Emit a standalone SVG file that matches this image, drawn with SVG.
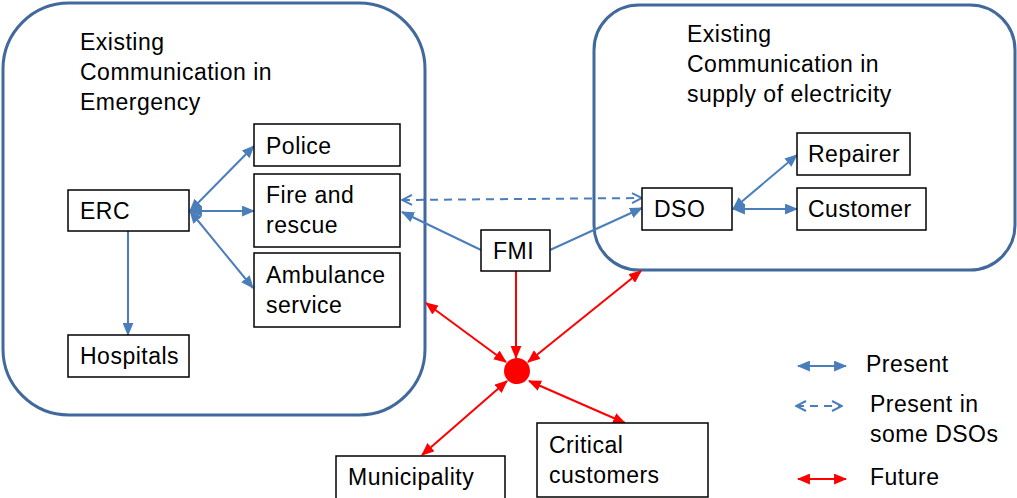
<svg xmlns="http://www.w3.org/2000/svg" width="1017" height="498" viewBox="0 0 1017 498">
<defs>
<style>
text{font-family:"Liberation Sans",Arial,sans-serif;font-size:23px;letter-spacing:0.5px;fill:#000}
.box{fill:#fff;stroke:#000;stroke-width:1.5}
.grp{fill:none;stroke:#41699c;stroke-width:3}
.b{stroke:#4a7ebb;stroke-width:2;fill:none}
.bd{stroke:#4a7ebb;stroke-width:2;fill:none;stroke-dasharray:8,6}
.r{stroke:#ff0000;stroke-width:2;fill:none}
</style>
<marker id="ab" viewBox="0 0 12 10" refX="11" refY="5" markerWidth="13" markerHeight="11" markerUnits="userSpaceOnUse" orient="auto-start-reverse"><path d="M0,0 L12,5 L0,10 Z" fill="#4a7ebb"/></marker>
<marker id="ao" viewBox="0 0 12 12" refX="11" refY="6" markerWidth="12" markerHeight="12" markerUnits="userSpaceOnUse" orient="auto-start-reverse"><path d="M1,1 L11,6 L1,11" fill="none" stroke="#4a7ebb" stroke-width="2"/></marker>
<marker id="ar" viewBox="0 0 12 10" refX="11" refY="5" markerWidth="13" markerHeight="11" markerUnits="userSpaceOnUse" orient="auto-start-reverse"><path d="M0,0 L12,5 L0,10 Z" fill="#ff0000"/></marker>
</defs>
<g id="group-emergency"><rect class="grp" x="3" y="3" width="422" height="412" rx="66" ry="66"/>
<text x="80" y="50">Existing</text><text x="80" y="80">Communication in</text><text x="80" y="110">Emergency</text></g>
<g id="group-electricity"><rect class="grp" x="594" y="5" width="421" height="265" rx="45" ry="45"/>
<text x="687" y="42">Existing</text><text x="687" y="72">Communication in</text><text x="687" y="102">supply of electricity</text></g>
<g id="connectors">
<line class="b" x1="190" y1="211" x2="254" y2="146" marker-start="url(#ab)" marker-end="url(#ab)"/>
<line class="b" x1="190" y1="211" x2="254" y2="211" marker-start="url(#ab)" marker-end="url(#ab)"/>
<line class="b" x1="190" y1="211" x2="253" y2="288" marker-start="url(#ab)" marker-end="url(#ab)"/>
<line class="b" x1="128" y1="231" x2="128" y2="335" marker-end="url(#ab)"/>
<line class="bd" x1="402" y1="200" x2="642" y2="198" marker-start="url(#ao)" marker-end="url(#ao)"/>
<line class="b" x1="481" y1="250" x2="402" y2="212" marker-end="url(#ab)"/>
<line class="b" x1="550" y1="250" x2="642" y2="208" marker-end="url(#ab)"/>
<line class="b" x1="733" y1="209" x2="797" y2="155" marker-start="url(#ab)" marker-end="url(#ab)"/>
<line class="b" x1="733" y1="209" x2="797" y2="209" marker-start="url(#ab)" marker-end="url(#ab)"/>
<line class="r" x1="516" y1="271" x2="516" y2="358" marker-end="url(#ar)"/>
<line class="r" x1="426" y1="303" x2="506" y2="362" marker-start="url(#ar)" marker-end="url(#ar)"/>
<line class="r" x1="641" y1="271" x2="528" y2="362" marker-start="url(#ar)" marker-end="url(#ar)"/>
<line class="r" x1="507" y1="381" x2="422" y2="455" marker-start="url(#ar)" marker-end="url(#ar)"/>
<line class="r" x1="529" y1="381" x2="625" y2="423" marker-start="url(#ar)" marker-end="url(#ar)"/>
</g>
<g id="hub"><circle cx="517" cy="371" r="13" fill="#ff0000"/></g>
<g id="police"><rect class="box" x="254" y="124" width="146" height="42"/><text x="266" y="154">Police</text></g>
<g id="fire"><rect class="box" x="254" y="174" width="146" height="73"/><text x="266" y="203">Fire and</text><text x="266" y="233">rescue</text></g>
<g id="ambulance"><rect class="box" x="254" y="253" width="146" height="74"/><text x="266" y="283">Ambulance</text><text x="266" y="313">service</text></g>
<g id="erc"><rect class="box" x="68" y="190" width="121" height="41"/><text x="80" y="219">ERC</text></g>
<g id="hospitals"><rect class="box" x="68" y="335" width="121" height="42"/><text x="80" y="364">Hospitals</text></g>
<g id="fmi"><rect class="box" x="481" y="230" width="69" height="41"/><text x="493" y="259">FMI</text></g>
<g id="dso"><rect class="box" x="642" y="188" width="90" height="42"/><text x="654" y="217">DSO</text></g>
<g id="repairer"><rect class="box" x="797" y="133" width="113" height="42"/><text x="808" y="162">Repairer</text></g>
<g id="customer"><rect class="box" x="797" y="188" width="129" height="42"/><text x="808" y="217">Customer</text></g>
<g id="municipality"><rect class="box" x="336" y="456" width="169" height="50"/><text x="348" y="485">Municipality</text></g>
<g id="critical"><rect class="box" x="537" y="423" width="171" height="74"/><text x="549" y="453">Critical</text><text x="549" y="483">customers</text></g>
<g id="legend">
<line class="b" x1="798" y1="366" x2="846" y2="366" marker-start="url(#ab)" marker-end="url(#ab)"/>
<text x="866" y="372">Present</text>
<line class="bd" x1="796" y1="406" x2="842" y2="406" stroke-dasharray="6,5" marker-start="url(#ao)" marker-end="url(#ao)"/>
<text x="870" y="412">Present in</text><text x="870" y="442">some DSOs</text>
<line class="r" x1="798" y1="479" x2="846" y2="479" marker-start="url(#ar)" marker-end="url(#ar)"/>
<text x="870" y="485">Future</text>
</g>
</svg>
